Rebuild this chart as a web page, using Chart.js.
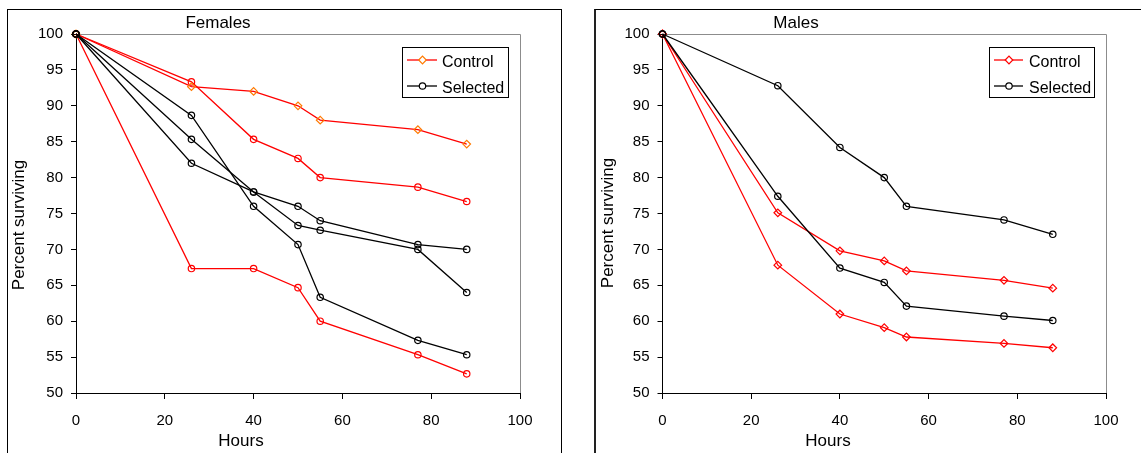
<!DOCTYPE html>
<html><head><meta charset="utf-8">
<script src="https://cdn.jsdelivr.net/npm/chart.js@4.4.1/dist/chart.umd.min.js"></script>
<style>
html,body{margin:0;padding:0;background:#fff;width:1141px;height:453px;overflow:hidden;}
.panel{position:absolute;box-sizing:border-box;}
#pL{left:7px;top:9px;width:555px;height:470px;border-left:1px solid #000;border-top:1px solid #000;border-right:1px solid #000;}
#pR{left:594px;top:9px;width:570px;height:470px;border-left:2px solid #222;border-top:1px solid #000;}
canvas{position:absolute;}
#cL{left:8px;top:10px;}
#cR{left:596px;top:10px;}
</style></head>
<body>
<div class="panel" id="pL"></div><div class="panel" id="pR"></div>
<canvas id="cL" width="552" height="443"></canvas>
<canvas id="cR" width="545" height="443"></canvas>
<script>
// ---- data ----
const hours = [0, 26, 40, 50, 55, 77, 88];
const xTicks = [0, 20, 40, 60, 80, 100];
const yTicks = [50, 55, 60, 65, 70, 75, 80, 85, 90, 95, 100];
const seriesNames = ['Control', 'Selected'];

const femaleControl1 = [100, 92.67, 92.0, 90.0, 88.0, 86.67, 84.67];
const femaleControl2 = [100, 93.33, 85.33, 82.67, 80.0, 78.67, 76.67];
const femaleControl3 = [100, 67.33, 67.33, 64.67, 60.0, 55.33, 52.67];
const femaleSelected1 = [100, 82.0, 78.0, 76.0, 74.0, 70.67, 70.0];
const femaleSelected2 = [100, 85.33, 78.0, 73.33, 72.67, 70.0, 64.0];
const femaleSelected3 = [100, 88.67, 76.0, 70.67, 63.33, 57.33, 55.33];

const maleControl1 = [100, 75.1, 69.8, 68.4, 67.0, 65.7, 64.6];
const maleControl2 = [100, 67.8, 61.0, 59.1, 57.8, 56.9, 56.3];
const maleSelected1 = [100, 92.8, 84.2, 80.0, 76.0, 74.1, 72.1];
const maleSelected2 = [100, 77.4, 67.4, 65.4, 62.1, 60.7, 60.1];

// ---- styling ----
const FONT = '"Liberation Sans", Arial, sans-serif';
const RED = '#ff0000';
const ORANGE = '#ff7a00';

function pts(vals){ return vals.map((v,i)=>({x: hours[i], y: v})); }
function ds(vals, line, marker, style, r){
  return { data: pts(vals), borderColor: line, borderWidth: 1.3, pointStyle: style,
    pointRadius: r, pointBorderColor: marker, pointBackgroundColor: 'rgba(0,0,0,0)',
    pointBorderWidth: 1.2, pointHoverRadius: r, fill: false, tension: 0, clip: false };
}

const decorPlugin = {
  id: 'decor',
  beforeDatasetsDraw(chart){
    const ca = chart.chartArea, ctx = chart.ctx;
    ctx.save(); ctx.strokeStyle = '#8c8c8c'; ctx.lineWidth = 1;
    ctx.beginPath();
    ctx.moveTo(ca.left, Math.round(ca.top)+0.5);
    ctx.lineTo(Math.round(ca.right)+0.5, Math.round(ca.top)+0.5);
    ctx.lineTo(Math.round(ca.right)+0.5, ca.bottom);
    ctx.stroke(); ctx.restore();
  },
  afterDraw(chart){
    const d = chart.options.plugins.decor, ctx = chart.ctx;
    ctx.save();
    ctx.fillStyle = '#000';
    ctx.font = '17px ' + FONT;
    ctx.textAlign = 'center'; ctx.textBaseline = 'alphabetic';
    ctx.fillText(d.title, d.titleX, d.titleY);
    ctx.fillText(d.xTitle, d.xTitleX, d.xTitleY);
    ctx.save();
    ctx.translate(d.yTitleX, d.yTitleY); ctx.rotate(-Math.PI/2);
    ctx.fillText(d.yTitle, 0, 0);
    ctx.restore();
    // legend
    const L = d.legend;
    ctx.fillStyle = '#fff';
    ctx.fillRect(L.x0, L.y0, L.x1-L.x0, L.y1-L.y0);
    ctx.strokeStyle = '#000'; ctx.lineWidth = 1;
    ctx.strokeRect(L.x0+0.5, L.y0+0.5, L.x1-L.x0, L.y1-L.y0);
    L.items.forEach((it, i) => {
      const y = L.rows[i];
      ctx.strokeStyle = it.line; ctx.lineWidth = 1.3;
      ctx.beginPath(); ctx.moveTo(L.lx0, y); ctx.lineTo(L.lx1, y); ctx.stroke();
      ctx.strokeStyle = it.marker; ctx.lineWidth = 1.2;
      ctx.beginPath();
      const mx = L.mx, r = it.r;
      if (it.style === 'circle') { ctx.arc(mx, y, r, 0, Math.PI*2); }
      else { ctx.moveTo(mx-r, y); ctx.lineTo(mx, y-r); ctx.lineTo(mx+r, y); ctx.lineTo(mx, y+r); ctx.closePath(); }
      ctx.fillStyle = '#fff'; ctx.fill(); ctx.stroke();
      ctx.fillStyle = '#000'; ctx.font = '16px ' + FONT; ctx.textAlign = 'left';
      ctx.fillText(seriesNames[i], L.tx, L.base[i]);
    });
    ctx.restore();
  }
};

function makeChart(id, datasets, decor, target){
  const chart = new Chart(document.getElementById(id), {
    type: 'line',
    data: { datasets },
    plugins: [decorPlugin],
    options: {
      responsive: false, animation: false, events: [],
      layout: { padding: { left: 0, top: 24, right: 28, bottom: 0 } },
      plugins: { legend: { display: false }, title: { display: false }, tooltip: { enabled: false }, decor },
      scales: {
        x: { type: 'linear', min: 0, max: 100,
          afterBuildTicks: s => { s.ticks = xTicks.map(v => ({ value: v })); },
          ticks: { color: '#000', font: { family: FONT, size: 15 }, padding: 13, maxRotation: 0, autoSkip: false },
          grid: { drawOnChartArea: false, drawTicks: true, tickLength: 6, color: '#000', lineWidth: 1 },
          border: { color: '#000', width: 1 },
          afterFit: s => { s.height = 60; } },
        y: { type: 'linear', min: 50, max: 100,
          afterBuildTicks: s => { s.ticks = yTicks.map(v => ({ value: v })); },
          ticks: { color: '#000', font: { family: FONT, size: 15 }, padding: 8, autoSkip: false },
          grid: { drawOnChartArea: false, drawTicks: true, tickLength: 5, color: '#000', lineWidth: 1 },
          border: { color: '#000', width: 1 },
          afterFit: s => { s.width = 68; } }
      }
    }
  });
  for (let k = 0; k < 3; k++) {
    const ca = chart.chartArea;
    const p = chart.config.options.layout.padding;
    chart.config.options.layout.padding = {
      left: p.left + (target.left - ca.left),
      top: p.top + (target.top - ca.top),
      right: p.right + (ca.right - target.right),
      bottom: p.bottom + (ca.bottom - target.bottom)
    };
    chart.update('none');
  }
  return chart;
}

makeChart('cL', [
  ds(femaleSelected1, '#000', '#000', 'circle', 3.2),
  ds(femaleSelected2, '#000', '#000', 'circle', 3.2),
  ds(femaleSelected3, '#000', '#000', 'circle', 3.2),
  ds(femaleControl1, RED, ORANGE, 'rectRot', 3.8),
  ds(femaleControl2, RED, RED, 'circle', 3.2),
  ds(femaleControl3, RED, RED, 'circle', 3.2)
], {
  title: 'Females', titleX: 210, titleY: 18,
  xTitle: 'Hours', xTitleX: 233, xTitleY: 436,
  yTitle: 'Percent surviving', yTitleX: 16, yTitleY: 215,
  legend: { x0: 394, y0: 37, x1: 500, y1: 87, lx0: 399, lx1: 429, mx: 414.5, tx: 434,
    rows: [50, 76], base: [57, 83],
    items: [ { line: RED, marker: ORANGE, style: 'diamond', r: 3.8 },
             { line: '#000', marker: '#000', style: 'circle', r: 3.2 } ] }
}, { left: 68, top: 24, right: 512, bottom: 383 });

makeChart('cR', [
  ds(maleSelected1, '#000', '#000', 'circle', 3.2),
  ds(maleSelected2, '#000', '#000', 'circle', 3.2),
  ds(maleControl1, RED, RED, 'rectRot', 3.8),
  ds(maleControl2, RED, RED, 'rectRot', 3.8)
], {
  title: 'Males', titleX: 200, titleY: 18,
  xTitle: 'Hours', xTitleX: 232, xTitleY: 436,
  yTitle: 'Percent surviving', yTitleX: 17, yTitleY: 213,
  legend: { x0: 393, y0: 37, x1: 498, y1: 87, lx0: 398, lx1: 427, mx: 413, tx: 433,
    rows: [50, 76], base: [57, 83],
    items: [ { line: RED, marker: RED, style: 'diamond', r: 3.8 },
             { line: '#000', marker: '#000', style: 'circle', r: 3.2 } ] }
}, { left: 66.5, top: 24, right: 510, bottom: 383 });
</script>
</body></html>
